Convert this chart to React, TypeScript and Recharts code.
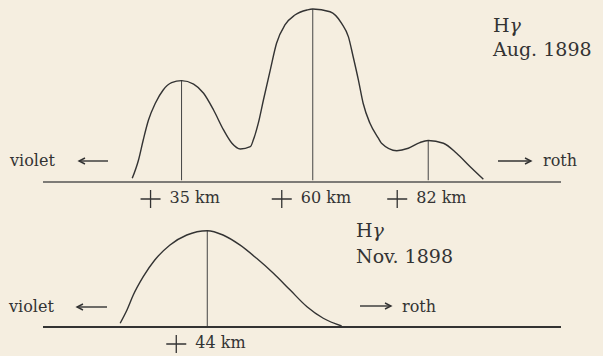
import React from 'react';
import { LineChart, Line, XAxis, YAxis, ReferenceLine } from 'recharts';

// Hγ, Aug. 1898 — displacement in km vs. intensity (arbitrary units)
const augKm = [25.6, 26.8, 27.7, 28.7, 30.0, 31.5, 33.1, 35, 37.3, 39.2, 41.1, 43.0, 44.6, 46.2, 48.1, 48.7, 49.6, 50.6, 51.9, 53.1, 54.7, 56.6, 58.9, 60, 63.3, 65.5, 66.8, 67.7, 68.7, 69.6, 70.9, 72.5, 73.1, 76.0, 78.2, 80.4, 82, 84.9, 87.4, 90.0, 92.5];
const augIntensity = [2.1, 12.7, 24.3, 35.8, 45.5, 53.2, 57.4, 58.6, 56.6, 51.3, 41.6, 30.1, 22.4, 19.1, 20.4, 24.5, 33.7, 47.4, 64.7, 80.2, 90.8, 96.5, 99.4, 100, 98.4, 91.7, 83.9, 72.4, 58.9, 45.5, 33.9, 25.3, 22.4, 18.1, 19.5, 22.8, 24.0, 22.4, 16.6, 8.8, 1.6];
const augPeaks = [35, 60, 82];

// Hγ, Nov. 1898
const novKm = [27.4, 28.7, 29.9, 31.8, 34.0, 36.9, 40.1, 44, 47.0, 50.2, 53.4, 56.6, 59.8, 63.0, 66.1, 69.6];
const novIntensity = [2.2, 9.9, 18.6, 29.3, 39.0, 47.8, 53.6, 56.1, 53.6, 47.8, 40.0, 31.3, 21.5, 11.8, 5.1, 0.6];
const novPeaks = [44];

const augData = augKm.map((km, i) => ({ km, v: augIntensity[i] }));
const novData = novKm.map((km, i) => ({ km, v: novIntensity[i] }));

const INK = '#333';
const FONT = '"DejaVu Serif", serif';

const peakValue = (data: { km: number; v: number }[], km: number) =>
  data.find((d) => d.km === km)?.v ?? 0;

// "+ 35 km" style label: a thin cross followed by the value
function KmTick(props: any) {
  const { x, y, payload } = props;
  const cx = x - 31;
  const cy = y + 17;
  return (
    <g>
      <path d={`M${cx - 10},${cy}H${cx + 10}M${cx},${cy - 9}V${cy + 9}`} stroke={INK} strokeWidth={1.3} fill="none" />
      <text x={x - 12} y={y + 21} fontSize={16} fill={INK} fontFamily={FONT}>
        {payload.value} km
      </text>
    </g>
  );
}

function Arrow({ x1, x2, y }: { x1: number; x2: number; y: number }) {
  const dir = x2 > x1 ? 1 : -1;
  return (
    <g stroke={INK} strokeWidth={1.4} fill="none">
      <line x1={x1} y1={y} x2={x2} y2={y} />
      <polyline points={`${x2 - dir * 6},${y - 3} ${x2},${y} ${x2 - dir * 6},${y + 3}`} />
    </g>
  );
}

export default function App() {
  return (
    <div style={{ position: 'absolute', left: 0, top: 0, width: 603, height: 356, background: '#f5eee0', overflow: 'hidden' }}>
      <div style={{ position: 'absolute', left: 0, top: 0 }}>
        <LineChart width={603} height={215} data={augData} margin={{ top: 9, right: 42, left: 43, bottom: 0 }}>
          <XAxis
            dataKey="km"
            type="number"
            domain={[8.6, 107.3]}
            ticks={augPeaks}
            interval={0}
            tickLine={false}
            tickSize={0}
            tickMargin={0}
            height={33}
            axisLine={{ stroke: '#555', strokeWidth: 1.3 }}
            tick={<KmTick />}
          />
          <YAxis hide domain={[0, 100]} />
          {augPeaks.map((p) => (
            <ReferenceLine
              key={p}
              segment={[{ x: p, y: 1 }, { x: p, y: peakValue(augData, p) }]}
              stroke="#444"
              strokeWidth={1}
            />
          ))}
          <Line type="monotone" dataKey="v" stroke={INK} strokeWidth={1.4} dot={false} isAnimationActive={false} />
        </LineChart>
      </div>
      <div style={{ position: 'absolute', left: 0, top: 200 }}>
        <LineChart width={603} height={156} data={novData} margin={{ top: 24, right: 42, left: 43, bottom: 0 }}>
          <XAxis
            dataKey="km"
            type="number"
            domain={[12.7, 111.4]}
            ticks={novPeaks}
            interval={0}
            tickLine={false}
            tickSize={0}
            tickMargin={0}
            height={29}
            axisLine={{ stroke: '#333', strokeWidth: 2 }}
            tick={<KmTick />}
          />
          <YAxis hide domain={[0, 60]} />
          {novPeaks.map((p) => (
            <ReferenceLine
              key={p}
              segment={[{ x: p, y: 0 }, { x: p, y: peakValue(novData, p) }]}
              stroke="#444"
              strokeWidth={1}
            />
          ))}
          <Line type="monotone" dataKey="v" stroke={INK} strokeWidth={1.4} dot={false} isAnimationActive={false} />
        </LineChart>
      </div>
      <svg width={603} height={356} style={{ position: 'absolute', left: 0, top: 0, pointerEvents: 'none' }}>
        <g fontFamily={FONT} fill={INK}>
          <text x={493} y={32} fontSize={19}>H<tspan fontStyle="italic">γ</tspan></text>
          <text x={493} y={56} fontSize={19}>Aug. 1898</text>
          <text x={356} y={237} fontSize={19}>H<tspan fontStyle="italic">γ</tspan></text>
          <text x={356} y={263} fontSize={19}>Nov. 1898</text>
          <text x={10} y={166} fontSize={16}>violet</text>
          <text x={543} y={166} fontSize={16}>roth</text>
          <text x={9} y={312} fontSize={16}>violet</text>
          <text x={402} y={312} fontSize={16}>roth</text>
        </g>
        <Arrow x1={108} x2={79} y={161} />
        <Arrow x1={498} x2={531} y={161} />
        <Arrow x1={107} x2={77} y={307} />
        <Arrow x1={360} x2={391} y={306} />
      </svg>
    </div>
  );
}
